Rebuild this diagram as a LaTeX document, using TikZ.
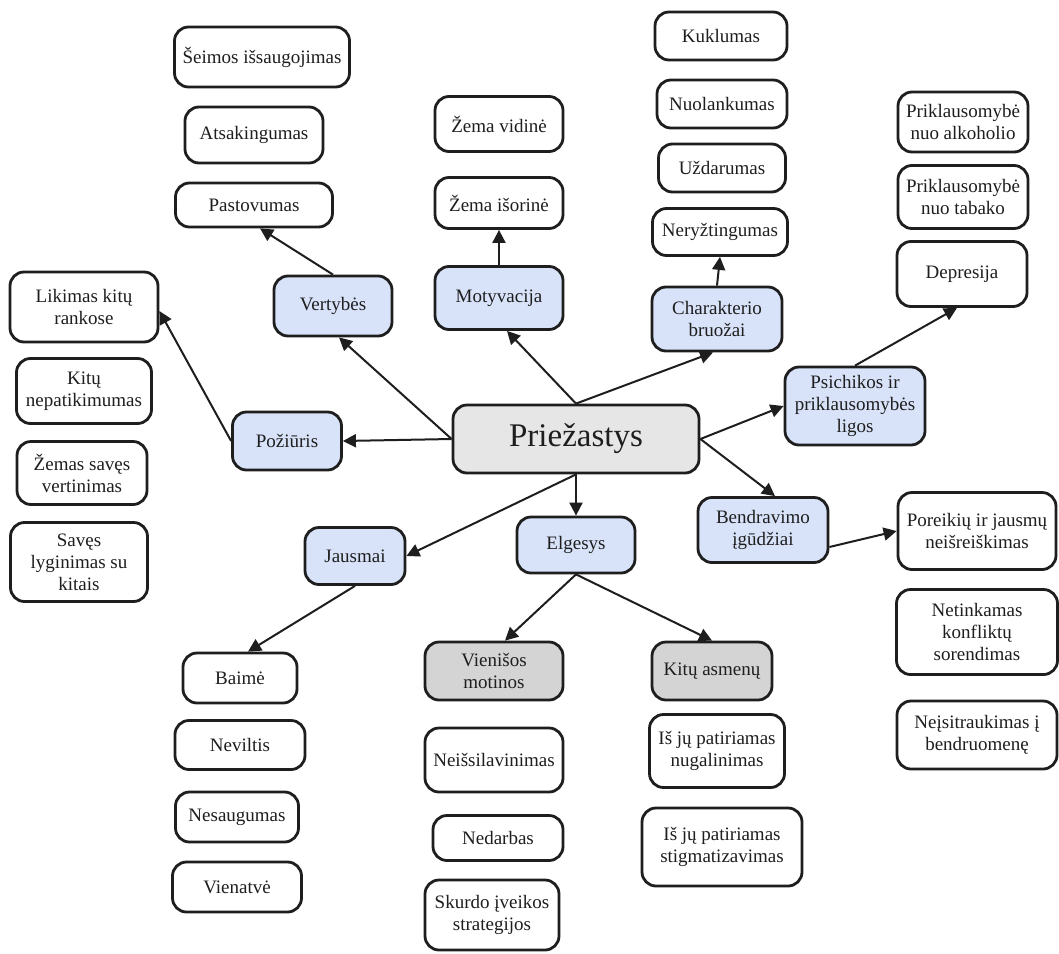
\documentclass[tikz,border=0pt]{standalone}
\usepackage{fontspec}
\setmainfont{Liberation Serif}
\usetikzlibrary{arrows.meta}
\definecolor{inkc}{HTML}{1E1E1E}
\definecolor{bluefill}{HTML}{D8E3FA}
\definecolor{corefill}{HTML}{E6E6E6}
\definecolor{grayfill}{HTML}{D4D4D4}
\tikzset{
  box/.style 2 args={draw=inkc, line width=2.8pt, rounded corners=14pt, fill=white,
    minimum width=#1pt, minimum height=#2pt, inner sep=1pt, align=center,
    text=inkc, font=\fontsize{19}{22}\selectfont},
  cat/.style={fill=bluefill},
  sub/.style={fill=grayfill},
  link/.style={draw=inkc, line width=2pt, -{Triangle[length=13pt,width=13pt]}}
}
\begin{document}
\begin{tikzpicture}[x=1pt,y=-1pt]
\useasboundingbox (0,0) rectangle (1059,953);

% centre
\node[box={246}{68}, fill=corefill, font=\fontsize{33}{38}\selectfont] (prz) at (576,439) {Priežastys};

% categories
\node[box={118}{60}, cat] (ver) at (333,306) {Vertybės};
\node[box={128}{63}, cat] (mot) at (499,298) {Motyvacija};
\node[box={130}{64}, cat] (cha) at (717,319) {Charakterio\\bruožai};
\node[box={140}{78}, cat] (psi) at (855,406) {Psichikos ir\\priklausomybės\\ligos};
\node[box={109}{58}, cat] (poz) at (287,441) {Požiūris};
\node[box={100}{57}, cat] (jau) at (355,556) {Jausmai};
\node[box={118}{56}, cat] (elg) at (576,545) {Elgesys};
\node[box={130}{65}, cat] (bnd) at (763,530) {Bendravimo\\įgūdžiai};
\node[box={138}{58}, sub] (vie) at (494,671) {Vienišos\\motinos};
\node[box={120}{58}, sub] (kas) at (712,671) {Kitų asmenų};

% values
\node[box={175}{60}] (sei) at (262,57) {Šeimos išsaugojimas};
\node[box={138}{56}] (ats) at (254,135) {Atsakingumas};
\node[box={157}{44}] (pas) at (254,205) {Pastovumas};

% motivation
\node[box={128}{55}] (zv) at (499,124) {Žema vidinė};
\node[box={128}{51}] (zi) at (499,203) {Žema išorinė};

% character traits
\node[box={132}{48}] (kuk) at (721,36) {Kuklumas};
\node[box={130}{48}] (nuo) at (722,104) {Nuolankumas};
\node[box={127}{48}] (uzd) at (722,168) {Uždarumas};
\node[box={135}{47}] (ner) at (720,232) {Neryžtingumas};

% mental health and addictions
\node[box={130}{60}] (alk) at (963,122) {Priklausomybė\\nuo alkoholio};
\node[box={130}{63}] (tab) at (963,197) {Priklausomybė\\nuo tabako};
\node[box={130}{65}] (dep) at (962,274) {Depresija};

% attitude
\node[box={148}{70}] (lik) at (84,307) {Likimas kitų\\rankose};
\node[box={135}{65}] (kit) at (84,391) {Kitų\\nepatikimumas};
\node[box={130}{63}] (zsv) at (82,473) {Žemas savęs\\vertinimas};
\node[box={137}{79}] (sav) at (79,562) {Savęs\\lyginimas su\\kitais};

% feelings
\node[box={114}{50}] (bai) at (240,678) {Baimė};
\node[box={130}{49}] (nev) at (240,745) {Neviltis};
\node[box={123}{50}] (nes) at (237,817) {Nesaugumas};
\node[box={129}{50}] (vnt) at (237,887) {Vienatvė};

% single mothers
\node[box={138}{64}] (nei) at (494,760) {Neišsilavinimas};
\node[box={130}{45}] (ned) at (498,838) {Nedarbas};
\node[box={134}{70}] (sku) at (492,915) {Skurdo įveikos\\strategijos};

% other persons
\node[box={135}{73}] (nug) at (717,751) {Iš jų patiriamas\\nugalinimas};
\node[box={160}{78}] (sti) at (722,847) {Iš jų patiriamas\\stigmatizavimas};

% communication skills
\node[box={158}{77}] (por) at (977,531) {Poreikių ir jausmų\\neišreiškimas};
\node[box={161}{85}] (net) at (977,632) {Netinkamas\\konfliktų\\sorendimas};
\node[box={160}{68}] (nej) at (977,735) {Neįsitraukimas į\\bendruomenę};

% connectors
\draw[link] (prz.west) -- ([xshift=6pt]ver.south);
\draw[link] (prz.west) -- (poz.east);
\draw[link] (prz.north) -- ([xshift=8pt]mot.south);
\draw[link] (prz.north) -- ([xshift=-4pt]cha.south);
\draw[link] (prz.east) -- (psi.west);
\draw[link] (prz.east) -- ([xshift=12pt]bnd.north);
\draw[link] (prz.south) -- (elg.north);
\draw[link] (prz.south) -- (jau.east);
\draw[link] (ver.north) -- ([xshift=6pt]pas.south);
\draw[link] (poz.west) -- ([yshift=-4pt]lik.east);
\draw[link] (mot.north) -- (zi.south);
\draw[link] (cha.north) -- (ner.south);
\draw[link] (psi.north) -- ([xshift=-5pt]dep.south);
\draw[link] ([yshift=-17pt]bnd.east) -- (por.west);
\draw[link] (jau.south) -- ([xshift=8pt]bai.north);
\draw[link] (elg.south) -- ([xshift=11pt]vie.north);
\draw[link] (elg.south) -- (kas.north);
\end{tikzpicture}
\end{document}
